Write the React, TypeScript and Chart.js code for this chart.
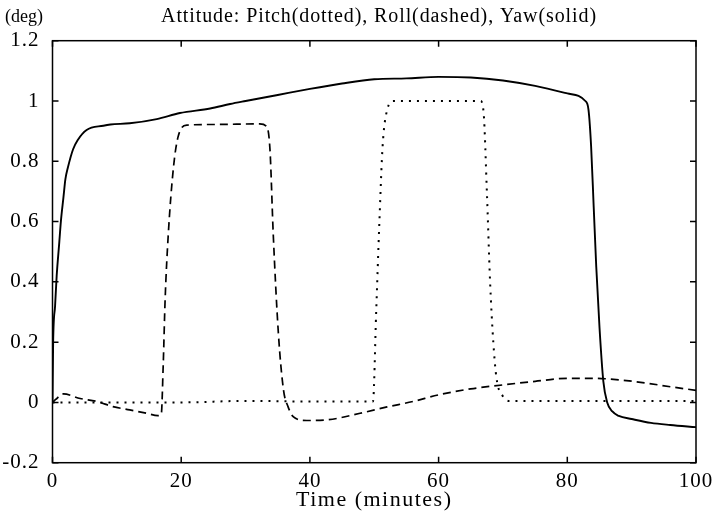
import React, { useEffect, useRef } from "react";
import { Chart, registerables } from "chart.js";

Chart.register(...registerables);

const TITLE = "Attitude: Pitch(dotted), Roll(dashed), Yaw(solid)";
const Y_UNIT = "(deg)";
const X_TITLE = "Time (minutes)";

const X_TICKS = [0, 20, 40, 60, 80, 100];
const Y_TICKS = [-0.2, 0, 0.2, 0.4, 0.6, 0.8, 1, 1.2];

// Yaw (solid)
const yawTime = [0, 0.1, 0.4, 0.65, 1.05, 1.3, 1.7, 2.0, 2.4, 3.2, 3.9, 5.3, 7.9, 9, 12, 16.2, 19.8, 24.5, 27.6, 30, 35, 40, 45, 50, 55, 60, 65, 70, 75, 80, 82.8, 83.3, 83.7, 84.1, 84.5, 85, 85.6, 86.2, 87, 88, 90, 93, 96, 100];
const yawVal = [0, 0.2, 0.32, 0.42, 0.53, 0.6, 0.68, 0.74, 0.78, 0.84, 0.87, 0.904, 0.918, 0.922, 0.926, 0.94, 0.96, 0.975, 0.99, 1.0, 1.02, 1.04, 1.058, 1.072, 1.075, 1.08, 1.078, 1.068, 1.05, 1.025, 1.0, 0.97, 0.85, 0.65, 0.45, 0.25, 0.07, 0.0, -0.03, -0.045, -0.055, -0.068, -0.075, -0.082];

// Roll (dashed)
const rollTime = [0, 0.5, 1.7, 4.3, 6.9, 9.4, 12, 14.6, 16.4, 16.9, 17.2, 17.5, 18, 18.8, 19.5, 20.9, 25, 32.2, 33.3, 33.8, 34.3, 35.1, 35.9, 36.6, 37.4, 39.5, 42.6, 47.8, 52, 56, 60, 65, 70, 75, 80, 84, 88, 92, 96, 100];
const rollVal = [0, 0.01, 0.028, 0.013, 0.003, -0.014, -0.025, -0.036, -0.044, -0.04, 0.12, 0.34, 0.56, 0.78, 0.88, 0.92, 0.922, 0.924, 0.915, 0.837, 0.56, 0.23, 0.041, -0.014, -0.047, -0.06, -0.058, -0.036, -0.015, 0.003, 0.025, 0.045, 0.058, 0.07, 0.08, 0.08, 0.075, 0.065, 0.052, 0.04];

// Pitch (dotted)
const pitchTime = [0, 10, 20, 30, 40, 49.8, 50.3, 50.8, 51.3, 52, 53, 60, 66.5, 67, 67.5, 68, 68.5, 69, 70, 71, 80, 90, 100];
const pitchVal = [0, 0, 0, 0.005, 0.003, 0.003, 0.3, 0.6, 0.85, 0.97, 1.0, 1.0, 1.0, 0.96, 0.7, 0.4, 0.2, 0.08, 0.02, 0.005, 0.005, 0.005, 0.005];

const FONT = "'Liberation Serif', 'Times New Roman', serif";

function pts(t: number[], v: number[]) {
  return t.map((x, i) => ({ x, y: v[i] }));
}

const spacingPlugin = {
  id: "spacing",
  beforeDraw(chart: any) {
    chart.ctx.letterSpacing = "1px";
  },
};

const framePlugin = {
  id: "frame",
  afterDraw(chart: any) {
    const { ctx, chartArea } = chart;
    const { left, right, top, bottom } = chartArea;
    const xs = chart.scales.x;
    const ys = chart.scales.y;
    ctx.save();
    ctx.strokeStyle = "#000";
    ctx.lineWidth = 1.5;
    ctx.strokeRect(left, top, right - left, bottom - top);
    const L = 6;
    ctx.beginPath();
    X_TICKS.forEach((t) => {
      const px = xs.getPixelForValue(t);
      ctx.moveTo(px, bottom);
      ctx.lineTo(px, bottom - L);
      ctx.moveTo(px, top);
      ctx.lineTo(px, top + L);
    });
    Y_TICKS.forEach((v) => {
      const py = ys.getPixelForValue(v);
      ctx.moveTo(left, py);
      ctx.lineTo(left + L, py);
      ctx.moveTo(right, py);
      ctx.lineTo(right - L, py);
    });
    ctx.stroke();
    ctx.fillStyle = "#000";
    ctx.textBaseline = "middle";
    ctx.textAlign = "center";
    ctx.font = `20px ${FONT}`;
    ctx.letterSpacing = "0.9px";
    ctx.fillText(TITLE, 379, 17);
    ctx.font = `22px ${FONT}`;
    ctx.letterSpacing = "1.5px";
    ctx.fillText(X_TITLE, (left + right) / 2, 500);
    ctx.textAlign = "left";
    ctx.font = `18px ${FONT}`;
    ctx.letterSpacing = "0px";
    ctx.fillText(Y_UNIT, 5, 17);
    ctx.restore();
  },
};

const fmt = (v: any) => String(Math.round(Number(v) * 10) / 10);

export default function App() {
  const ref = useRef<HTMLCanvasElement>(null);
  useEffect(() => {
    if (!ref.current) return;
    const chart = new Chart(ref.current, {
      type: "line",
      data: {
        datasets: [
          {
            label: "Yaw",
            data: pts(yawTime, yawVal),
            borderColor: "#000",
            borderWidth: 1.9,
            pointRadius: 0,
            cubicInterpolationMode: "monotone",
          },
          {
            label: "Roll",
            data: pts(rollTime, rollVal),
            borderColor: "#000",
            borderWidth: 1.7,
            borderDash: [8, 5],
            pointRadius: 0,
            cubicInterpolationMode: "monotone",
          },
          {
            label: "Pitch",
            data: pts(pitchTime, pitchVal),
            borderColor: "#000",
            borderWidth: 2,
            borderDash: [2, 6],
            pointRadius: 0,
            cubicInterpolationMode: "monotone",
          },
        ],
      },
      options: {
        animation: false,
        responsive: false,
        devicePixelRatio: 1,
        layout: { padding: { left: 0, top: 40.7, right: 24, bottom: 0 } },
        plugins: { legend: { display: false }, tooltip: { enabled: false }, title: { display: false } },
        scales: {
          x: {
            type: "linear",
            min: 0,
            max: 100,
            grid: { display: false },
            border: { display: false },
            afterFit: (s: any) => { s.height = 521 - 462.7; },
            afterBuildTicks: (s: any) => { s.ticks = X_TICKS.map((v) => ({ value: v })); },
            ticks: { color: "#000", font: { family: FONT, size: 21 }, padding: -2, maxRotation: 0, callback: fmt },
          },
          y: {
            type: "linear",
            min: -0.2,
            max: 1.2,
            grid: { display: false },
            border: { display: false },
            afterFit: (s: any) => { s.width = 52.5; },
            afterBuildTicks: (s: any) => { s.ticks = Y_TICKS.map((v) => ({ value: v })); },
            ticks: { color: "#000", font: { family: FONT, size: 21 }, padding: 5, callback: fmt },
          },
        },
      },
      plugins: [spacingPlugin, framePlugin],
    } as any);
    return () => chart.destroy();
  }, []);
  return (
    <div style={{ position: "absolute", left: 0, top: 0, width: 720, height: 521, background: "#fff" }}>
      <canvas ref={ref} width={720} height={521} />
    </div>
  );
}
